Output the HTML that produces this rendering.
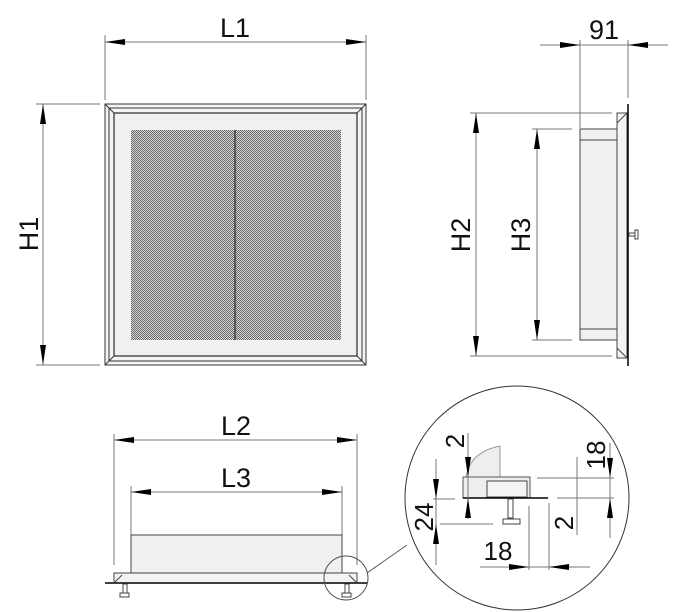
<!DOCTYPE html>
<html><head><meta charset="utf-8"><style>
html,body{margin:0;padding:0;background:#fff;}
svg{display:block;}
text{font-family:"Liberation Sans",sans-serif;fill:#111;}
</style></head><body>
<svg width="675" height="612" viewBox="0 0 675 612" xmlns="http://www.w3.org/2000/svg">
<defs>
<marker id="a" viewBox="0 0 20 6" refX="20" refY="3" markerWidth="20" markerHeight="6" markerUnits="userSpaceOnUse" orient="auto-start-reverse"><path d="M0,0L20,3L0,6z" fill="#000"/></marker>
<pattern id="perf" width="2" height="2" patternUnits="userSpaceOnUse"><rect width="2" height="2" fill="#d8d8d8"/><rect width="1" height="1" fill="#666"/><rect x="1" y="1" width="1" height="1" fill="#666"/></pattern>
</defs>
<g stroke="#777" stroke-width="1" fill="none">
<line x1="105" y1="35" x2="105" y2="100"/><line x1="366" y1="35" x2="366" y2="100"/>
<line x1="105" y1="42" x2="366" y2="42" marker-start="url(#a)" marker-end="url(#a)"/>
<line x1="36" y1="104" x2="100" y2="104"/><line x1="36" y1="365" x2="100" y2="365"/>
<line x1="43" y1="104" x2="43" y2="365" marker-start="url(#a)" marker-end="url(#a)"/>
</g>
<text x="235" y="37" font-size="27" text-anchor="middle">L1</text>
<text transform="translate(38,234) rotate(-90)" font-size="27" text-anchor="middle">H1</text>
<g stroke="#333" fill="none">
<rect x="105" y="104" width="261" height="261" fill="#f4f4f4"/>
<rect x="109" y="108" width="253" height="253"/>
<rect x="114" y="113" width="243" height="243" stroke="#000" fill="#f0f0f0"/>
<line x1="105" y1="104" x2="114" y2="113"/><line x1="366" y1="104" x2="357" y2="113"/>
<line x1="105" y1="365" x2="114" y2="356"/><line x1="366" y1="365" x2="357" y2="356"/>
</g>
<rect x="131" y="130" width="210" height="210" fill="url(#perf)"/>
<line x1="235" y1="130" x2="235" y2="340" stroke="#555" stroke-width="2"/>
<g stroke="#777" fill="none">
<line x1="580" y1="40" x2="580" y2="128"/><line x1="628" y1="40" x2="628" y2="98"/>
<line x1="540" y1="45" x2="580" y2="45" marker-end="url(#a)"/><line x1="668" y1="45" x2="628" y2="45" marker-end="url(#a)"/>
<line x1="580" y1="45" x2="628" y2="45"/>
<line x1="470" y1="113" x2="612" y2="113"/><line x1="470" y1="356" x2="612" y2="356"/>
<line x1="476" y1="113" x2="476" y2="356" marker-start="url(#a)" marker-end="url(#a)"/>
<line x1="532" y1="129" x2="572" y2="129"/><line x1="532" y1="340" x2="572" y2="340"/>
<line x1="537" y1="129" x2="537" y2="340" marker-start="url(#a)" marker-end="url(#a)"/>
</g>
<text x="604" y="39" font-size="27" text-anchor="middle">91</text>
<text transform="translate(470,235) rotate(-90)" font-size="27" text-anchor="middle">H2</text>
<text transform="translate(530,235) rotate(-90)" font-size="27" text-anchor="middle">H3</text>
<g stroke="#444" fill="none">
<rect x="580" y="129" width="37" height="211" fill="#f0f0f0"/>
<line x1="580" y1="140" x2="617" y2="140"/><line x1="580" y1="329" x2="617" y2="329"/>
<rect x="617" y="113" width="10" height="245" fill="#f4f4f4"/>
<line x1="617" y1="123" x2="627" y2="113"/><line x1="617" y1="348" x2="627" y2="358"/>
<line x1="628" y1="104" x2="628" y2="366" stroke="#000" stroke-width="1.5"/>
<rect x="629" y="233" width="6" height="3"/><rect x="635" y="230" width="3" height="9"/>
</g>
<g stroke="#777" fill="none">
<line x1="114" y1="434" x2="114" y2="565"/><line x1="357" y1="434" x2="357" y2="565"/>
<line x1="114" y1="440" x2="357" y2="440" marker-start="url(#a)" marker-end="url(#a)"/>
<line x1="131" y1="486" x2="131" y2="535"/><line x1="342" y1="486" x2="342" y2="535"/>
<line x1="131" y1="492" x2="342" y2="492" marker-start="url(#a)" marker-end="url(#a)"/>
</g>
<text x="236" y="435" font-size="27" text-anchor="middle">L2</text>
<text x="236" y="487" font-size="27" text-anchor="middle">L3</text>
<g stroke="#444" fill="none">
<rect x="131" y="535" width="211" height="38" fill="#f0f0f0"/>
<rect x="114" y="573" width="243" height="10" fill="#f4f4f4"/>
<line x1="105" y1="583" x2="367" y2="583" stroke="#000" stroke-width="1.5"/>
<line x1="114" y1="583" x2="122" y2="575"/><line x1="357" y1="583" x2="349" y2="575"/>
<rect x="123" y="584" width="4" height="9"/><rect x="120" y="593" width="9" height="4"/>
<rect x="345" y="584" width="4" height="9"/><rect x="342" y="593" width="9" height="4"/>
<circle cx="346" cy="578" r="22" stroke="#555"/>
<line x1="367" y1="573" x2="407" y2="545" stroke="#555"/>
<circle cx="517" cy="498" r="112" stroke="#333"/>
<path d="M466,477 Q470,452 500,446 L500,477 Z" fill="#eee" stroke="#999"/>
<rect x="463" y="477" width="67" height="21" fill="#eee" stroke="#555"/>
<rect x="487" y="481" width="40" height="16" fill="#f4f4f4"/>
<line x1="463" y1="498" x2="548" y2="498" stroke="#000" stroke-width="1.5"/>
<rect x="508" y="499" width="5" height="19"/><rect x="503" y="519" width="17" height="5"/>
</g>
<g stroke="#777" fill="none">
<line x1="468" y1="433" x2="468" y2="519"/>
<line x1="468" y1="460" x2="468" y2="477" marker-end="url(#a)"/>
<line x1="468" y1="516" x2="468" y2="498" marker-end="url(#a)"/>
<line x1="433" y1="499" x2="455" y2="499"/><line x1="440" y1="524" x2="493" y2="524"/>
<line x1="436" y1="459" x2="436" y2="565"/>
<line x1="436" y1="478" x2="436" y2="499" marker-end="url(#a)"/>
<line x1="436" y1="545" x2="436" y2="524" marker-end="url(#a)"/>
<line x1="529" y1="506" x2="529" y2="570"/><line x1="549" y1="503" x2="549" y2="570"/>
<line x1="480" y1="567" x2="590" y2="567"/>
<line x1="508" y1="567" x2="529" y2="567" marker-end="url(#a)"/>
<line x1="570" y1="567" x2="549" y2="567" marker-end="url(#a)"/>
<line x1="537" y1="478" x2="614" y2="478"/><line x1="557" y1="498" x2="614" y2="498"/>
<line x1="610" y1="443" x2="610" y2="538"/>
<line x1="610" y1="458" x2="610" y2="478" marker-end="url(#a)"/>
<line x1="610" y1="518" x2="610" y2="498" marker-end="url(#a)"/>
<line x1="577" y1="457" x2="577" y2="535"/>
<line x1="577" y1="478" x2="577" y2="498"/>
</g>
<text transform="translate(464,441) rotate(-90)" font-size="26" text-anchor="middle">2</text>
<text transform="translate(433,517) rotate(-90)" font-size="26" text-anchor="middle">24</text>
<text x="498" y="560" font-size="26" text-anchor="middle">18</text>
<text transform="translate(605,455) rotate(-90)" font-size="26" text-anchor="middle">18</text>
<text transform="translate(573,523) rotate(-90)" font-size="26" text-anchor="middle">2</text>
</svg>
</body></html>
